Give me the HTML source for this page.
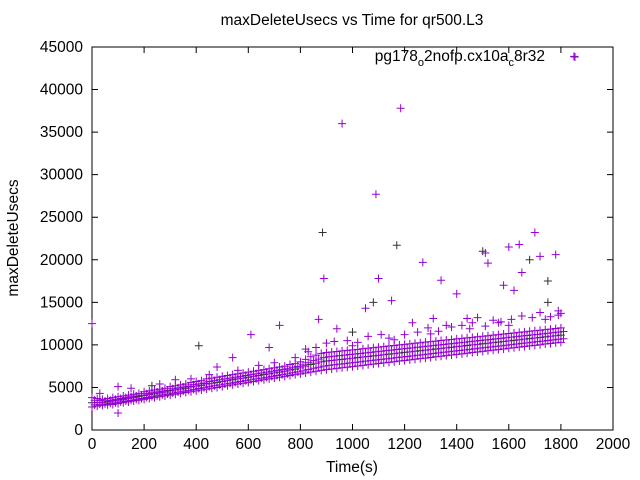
<!DOCTYPE html>
<html><head><meta charset="utf-8"><style>
body{margin:0;background:#fff}
svg{display:block;font-family:"Liberation Sans",sans-serif}
</style></head><body>
<svg id="chart" width="640" height="480">
<text x="352" y="25" font-size="15.5" text-anchor="middle">maxDeleteUsecs vs Time for qr500.L3</text>
<text transform="translate(18,238) rotate(-90)" font-size="15.5" text-anchor="middle">maxDeleteUsecs</text>
<text x="352" y="472" font-size="15.5" text-anchor="middle">Time(s)</text>
<g id="axes"></g>
<g id="marks"></g>
<g>
<text x="545" y="61" font-size="15.5" text-anchor="end">pg178<tspan font-size="11" dy="5">o</tspan><tspan dy="-5">2nofp.cx10a</tspan><tspan font-size="11" dy="5">c</tspan><tspan dy="-5">8r32</tspan></text>
<path d="M571 57h8M575 53v8" stroke="#9400d3" stroke-width="1"/>
</g>
</svg>
<script>
const xTicks=[0,200,400,600,800,1000,1200,1400,1600,1800,2000];
const yTicks=[0,5000,10000,15000,20000,25000,30000,35000,40000,45000];
const lowVals=[2700,2800,2900,2950,3000,3100,3200,3300,3400,3500,3600,3700,3800,3900,4000,4100,4200,4300,4400,4500,4600,4700,4800,4900,5000,5100,5200,5300,5400,5500,5600,5700,5800,5900,6000,6100,6200,6300,6400,6500,6600,6700,6800,6900,7000,7100,7170,7240,7310,7380,7450,7520,7600,7670,7740,7810,7880,7950,8020,8100,8170,8240,8310,8380,8450,8520,8600,8670,8740,8810,8880,8950,9020,9100,9170,9240,9310,9380,9450,9520,9600,9670,9740,9810,9880,9950,10020,10100,10170,10240,10300];
const midVals=[3200,3250,3250,3300,3400,3500,3600,3700,3800,3900,4050,4150,4250,4350,4450,4600,4700,4800,4900,5050,5150,5250,5400,5500,5600,5700,5800,5900,6000,6100,6200,6300,6400,6500,6600,6700,6800,6900,7050,7150,7300,7500,7700,7850,8000,8100,8165,8235,8300,8370,8435,8500,8575,8640,8710,8775,8840,8910,8975,9050,9115,9180,9250,9315,9385,9450,9520,9590,9655,9725,9790,9855,9925,9995,10065,10130,10195,10265,10330,10400,10470,10535,10605,10670,10740,10805,10870,10945,11010,11080,11150];
const highVals=[3800,3700,3600,3700,3800,3900,4000,4100,4200,4300,4500,4600,4700,4800,4900,5100,5200,5300,5400,5600,5700,5800,6000,6100,6200,6300,6400,6500,6600,6700,6800,6900,7000,7100,7200,7300,7400,7500,7700,7800,8000,8300,8600,8800,9000,9100,9160,9230,9290,9360,9420,9480,9550,9610,9680,9740,9800,9870,9930,10000,10060,10120,10190,10250,10320,10380,10440,10510,10570,10640,10700,10760,10830,10890,10960,11020,11080,11150,11210,11280,11340,11400,11470,11530,11600,11660,11720,11790,11850,11920,12000];
const bandTimes=lowVals.map((v,i)=>i*20);
const spreadTimes=[30,150,260,380,450,560,640,700,780,830,860,900,930,980,1020,1060,1110,1140,1200,1250,1290,1330,1380,1420,1460,1510,1540,1570,1610,1650,1690,1720,1760,1790,1000,1160,1300,1450,1600,1740];
const spreadVals=[4300,4900,5400,6000,6500,7000,7600,7900,8500,9200,9700,10200,10400,10500,10300,11000,11200,10800,11200,11500,12000,11600,12100,12300,12600,12200,12900,12700,13000,13400,13200,13800,13300,13500,9900,10600,11300,11900,12300,13000];
const outTimes=[0,870,885,890,960,1090,1185,1170,1100,1270,1340,1400,1500,1510,1520,1600,1640,1680,1700,1720,1780,1650,1750,1580,1620,610,720,410,540,680,1050,1150,1080,1310,1440,1480,1560,1750,1790,1800,100,100,230,320,480,820,940,1000,1230,1360,1850];
const outVals=[12500,13000,23200,17800,36000,27700,37800,21700,17800,19700,17600,16000,21000,20800,19600,21500,21800,20000,23200,20400,20600,18500,17500,17000,16400,11200,12300,9900,8500,9700,14300,15200,15000,13100,13100,13200,12600,15000,14000,13700,5100,2000,5200,5900,7400,9500,11900,11500,12600,12300,43900];
const X0=92,X1=613,Y0=430,Y1=47;
const sx=t=>X0+(t/2000)*(X1-X0);
const sy=v=>Y0-(v/45000)*(Y0-Y1);
const NS='http://www.w3.org/2000/svg';
const axes=document.getElementById('axes'),marks=document.getElementById('marks');
function mk(tag,at,par){const e=document.createElementNS(NS,tag);for(const k in at)e.setAttribute(k,at[k]);par.appendChild(e);return e;}
const frame=mk('rect',{x:X0,y:Y1,width:X1-X0,height:Y0-Y1,fill:'none',stroke:'#000'},axes);


xTicks.forEach(t=>{const x=sx(t);
const l=mk('path',{d:`M${x} ${Y0}v-6M${x} ${Y1}v6`,stroke:'#000'},axes);


const tx=mk('text',{x:x,y:Y0+19,'font-size':15.5,'text-anchor':'middle'},axes);tx.textContent=t;

});
yTicks.forEach(v=>{const y=sy(v);
const l=mk('path',{d:`M${X0} ${y}h6M${X1} ${y}h-6`,stroke:'#000'},axes);


const tx=mk('text',{x:X0-9,y:y+5,'font-size':15.5,'text-anchor':'end'},axes);tx.textContent=v;

});
function plus(t,v,c){const x=sx(t),y=sy(v);
const p=mk('path',{d:`M${x-4} ${y}h8M${x} ${y-4}v8`,stroke:c,'stroke-width':1},marks);

}
bandTimes.forEach((t,i)=>{plus(t,lowVals[i],'#9400d3');plus(t,midVals[i],i%3==0?'#333':'#9400d3');plus(t,highVals[i],'#9400d3');
plus(t+10,(lowVals[i]+midVals[i])/2,'#9400d3');plus(t+10,(midVals[i]+highVals[i])/2,'#9400d3');});
spreadTimes.forEach((t,i)=>plus(t,spreadVals[i],'#9400d3'));
outTimes.forEach((t,i)=>plus(t,outVals[i],i%5==2?'#333':'#9400d3'));
</script>
</body></html>
